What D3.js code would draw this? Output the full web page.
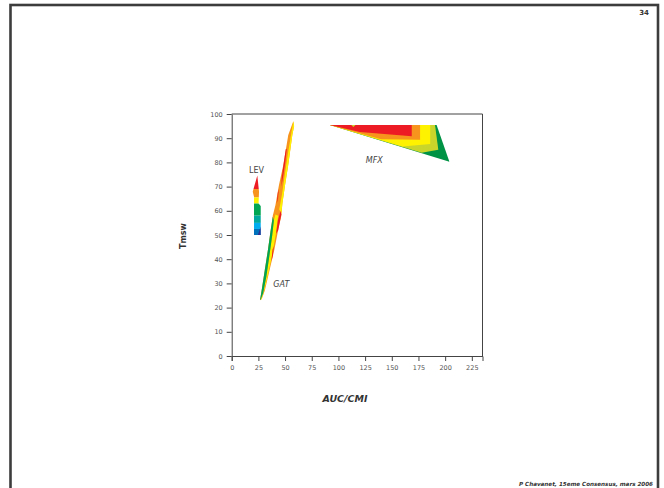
<!DOCTYPE html>
<html><head><meta charset="utf-8">
<script src="https://cdn.jsdelivr.net/npm/d3@7"></script>
<style>html,body{margin:0;padding:0;background:#fff;}svg{display:block;}</style>
</head><body>
<script>
// ---- data ----
const xTicks = [0,25,50,75,100,125,150,175,200,225];
const yTicks = [0,10,20,30,40,50,60,70,80,90,100];
const xDomain = [0,235];
const yDomain = [0,100];

const palette = {red:"#ed1c24", orange:"#f7941d", yellow:"#fff200", olive:"#c9d52b",
  green:"#00a651", dgreen:"#009245", teal:"#00a99d", cyan:"#00aeef", blue:"#0072bc", purple:"#2e3192"};

// LEV outline (AUC/CMI, Tmsw)
const levOutline = [[24,74.6],[25.6,68],[25.2,63],[27.2,62],[27.2,50],[20.9,50],[20.9,65.8],[19.7,67.9]];
const levBands = [
  {lo:69, hi:76, c:"red"}, {lo:65.5, hi:69, c:"orange"}, {lo:63, hi:65.5, c:"yellow"},
  {lo:58, hi:63, c:"green"}, {lo:55, hi:58, c:"teal"}, {lo:52.5, hi:55, c:"cyan"},
  {lo:50, hi:52.5, c:"blue"}];
const levCorner = [[24.5,50],[27.2,50],[27.2,53.5]];

// GAT layers
const gatOutline = [[26.5,23],[28,27],[31,35.5],[34,44],[36.5,52],[38.5,58],[41,62.4],[44.3,70.7],[48.4,79],[53,91.3],[57.7,97],
  [58.5,95],[56.8,91.3],[53,79],[50,70.7],[47.5,63],[46.5,58],[43.5,52],[40,44],[35.5,35.5],[31,27],[28,23.5]];
const gatGreen = [[26.5,23],[28,27],[31,35.5],[34,44],[36.5,52],[38.5,57.5],[39.5,56],[38,50],[35.5,42],[32.5,33],[29.5,26],[27.3,23.4]];
const gatYellowLow = [[27.3,23.4],[29.5,26],[32.5,33],[35.5,42],[38,50],[39.5,56],[41,58.5],[43.5,58],[41.2,50],[38,42],[34.2,34],[30.2,26.5],[28,23.5]];
const gatYellowHigh = [[44.5,60.5],[46.5,59],[47.5,63],[50,70.7],[53,79],[56.8,91.3],[58.5,95],[57.7,97],[56.4,93.5],[52.8,84],[50,75.5],[47.4,67.5],[45.6,63]];
const gatRed1 = [[41.6,50.5],[43.5,52],[46.5,58.5],[45.8,60],[43.3,56]];
const gatRed2 = [[46.6,70],[48.3,74.5],[50.2,80],[51.6,85.5],[50.7,85.5],[48.7,79.5],[46.8,73.5]];
const gatRed3 = [[37.2,39],[38.6,41.5],[39.4,45.5],[38.3,44]];
const gatRed4 = [[42.2,63],[43.4,65],[44.2,69],[43.2,67.5]];

// MFX bands, outermost first: top-right corner, bottom-right corner, lower point
const mfxTip = [92,95.5];
const mfxBands = [
  {c:"dgreen", pts:[[192,95.5],[204,80.3]]},
  {c:"olive",  pts:[[190.5,95.5],[193.6,85.2],[178,84.0]]},
  {c:"yellow", pts:[[186,95.5],[186,87.6],[160,86.6]]},
  {c:"orange", pts:[[176.5,95.5],[176.5,89.4],[140,89.6]]},
  {c:"red",    pts:[[168.7,95.5],[168.7,90.8],[120,92.6]]}];
const mfxSpeck = [[112,95.5],[116,95.5],[114,94.6]];

const labels = [
  {t:"LEV", x:23.3, y:75.8, style:"normal"},
  {t:"GAT", x:46.5, y:28.6, style:"oblique"},
  {t:"MFX", x:133.6, y:79.8, style:"oblique"}];

// ---- drawing ----
const W=664, H=488;
const svg = d3.select("body").append("svg").attr("width",W).attr("height",H);

// slide frame
svg.append("rect").attr("x",10.5).attr("y",5).attr("width",647.5).attr("height",H+20)
  .attr("fill","none").attr("stroke","#3c3c3c").attr("stroke-width",2.6);
svg.append("text").attr("x",649).attr("y",15).attr("text-anchor","end")
  .attr("font-family","DejaVu Sans").attr("font-weight","bold").attr("font-size",7).attr("fill","#333").text("34");
svg.append("text").attr("x",653).attr("y",485.5).attr("text-anchor","end")
  .attr("font-family","DejaVu Sans").attr("font-weight","bold").attr("font-style","italic")
  .attr("font-size",5.6).attr("fill","#333").text("P Chavanet, 15eme Consensus, mars 2006");

const x = d3.scaleLinear().domain(xDomain).range([231.7,482.5]);
const y = d3.scaleLinear().domain(yDomain).range([356,114]);
const line = d3.line().x(d=>x(d[0])).y(d=>y(d[1]));
const poly = pts => line(pts) + "Z";

const g = svg.append("g");

// LEV
const defs = svg.append("defs");
defs.append("clipPath").attr("id","levclip").append("path").attr("d",poly(levOutline));
const levG = g.append("g").attr("clip-path","url(#levclip)");
levBands.forEach(b=>{
  levG.append("rect").attr("x",x(18)).attr("width",x(30)-x(18))
    .attr("y",y(b.hi)).attr("height",y(b.lo)-y(b.hi)).attr("fill",palette[b.c]);
});
levG.append("path").attr("d",poly(levCorner)).attr("fill",palette.purple);

// GAT
g.append("path").attr("d",poly(gatOutline)).attr("fill",palette.orange);
g.append("path").attr("d",poly(gatYellowLow)).attr("fill",palette.yellow);
g.append("path").attr("d",poly(gatGreen)).attr("fill",palette.green);
g.append("path").attr("d",poly(gatYellowHigh)).attr("fill",palette.yellow);
[gatRed1,gatRed2,gatRed3,gatRed4].forEach(p=>g.append("path").attr("d",poly(p)).attr("fill",palette.red));

// MFX
mfxBands.forEach(b=>{
  g.append("path").attr("d",poly([mfxTip].concat(b.pts))).attr("fill",palette[b.c]);
});
g.append("path").attr("d",poly(mfxSpeck)).attr("fill",palette.olive);

// axes
const axG = svg.append("g");
const xa = axG.append("g").attr("transform",`translate(0,${y(0)})`)
  .call(d3.axisBottom(x).tickValues(xTicks).tickSize(5).tickSizeOuter(5).tickPadding(4));
const ya = axG.append("g").attr("transform",`translate(${x(0)},0)`)
  .call(d3.axisLeft(y).tickValues(yTicks).tickSize(5).tickSizeOuter(0).tickPadding(4));
[xa,ya].forEach(a=>{
  a.selectAll("path,line").attr("stroke","#444").attr("stroke-width",1);
  a.selectAll("text").attr("fill","#555").attr("font-size",6.5).attr("font-family","DejaVu Sans");
});
// top & right frame
svg.append("path").attr("d",`M${x(0)},${y(100)}H${x(235)}V${y(0)}`)
  .attr("fill","none").attr("stroke","#444").attr("stroke-width",1);

// series labels
labels.forEach(l=>{
  svg.append("text").attr("x",x(l.x)).attr("y",y(l.y)).attr("text-anchor","middle")
    .attr("font-family","DejaVu Sans").attr("font-style",l.style).attr("font-size",8)
    .attr("fill","#444").text(l.t);
});

// axis titles
svg.append("text").attr("x",345).attr("y",402).attr("text-anchor","middle")
  .attr("font-family","DejaVu Sans").attr("font-weight","bold").attr("font-style","italic")
  .attr("font-size",9.5).attr("fill","#333").text("AUC/CMI");
svg.append("text").attr("transform","translate(186,236) rotate(-90)").attr("text-anchor","middle")
  .attr("font-family","DejaVu Sans").attr("font-weight","bold")
  .attr("font-size",8).attr("fill","#333").text("Tmsw");
</script>
</body></html>
